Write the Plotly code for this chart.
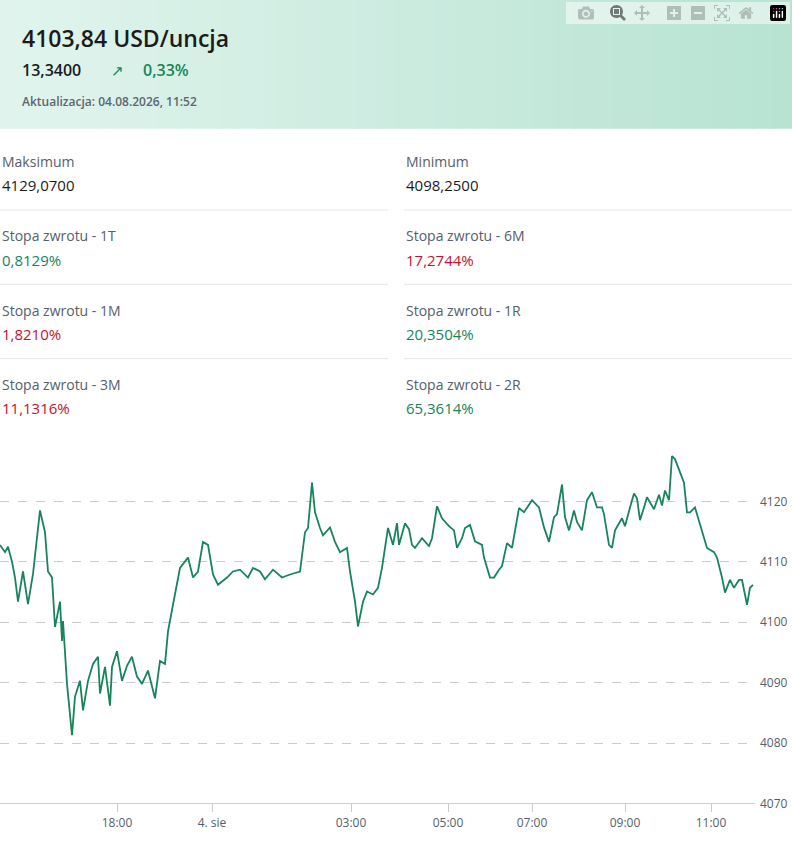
import plotly.graph_objects as go

# chart data (x = ordinal trading-time position, y = price)
xs = [0,5,8,12,15,18,23,28,33,40,45,48,52,55,60,62,63,67,72,75,80,83,88,93,98,100,105,110,112,117,122,127,132,137,142,148,155,160,165,168,173,180,188,193,198,203,208,213,218,227,233,240,248,253,260,265,273,282,290,300,305,308,312,315,320,323,330,335,340,347,350,355,358,363,367,373,378,382,388,393,397,
      399,405,409,412,415,422,429,432,437,442,449,454,457,462,465,470,475,482,484,490,494,499,502,507,512,519,524,532,539,544,549,554,557,562,565,569,574,577,582,587,592,597,602,604,609,612,615,622,625,630,634,637,640,644,647,654,659,662,665,669,672,675,680,684,687,690,695,702,707,714,717,722,725,730,734,739,742,747,750,753]
ys = [4112.8,4111.6,4112.5,4110.0,4107.4,4103.4,4108.4,4103.0,4108.0,4118.5,4114.9,4108.4,4107.4,4099.2,4103.4,4096.9,4100.2,4089.8,4081.3,4087.7,4090.3,4085.4,4090.3,4093.1,4094.3,4088.2,4092.6,4086.2,4092.6,4095.2,4090.3,4092.8,4094.3,4091.0,4089.8,4092.0,4087.4,4093.6,4093.1,4098.5,4102.9,4109.0,4110.7,4107.4,4108.4,4113.3,4112.8,4107.9,4106.2,4107.4,4108.4,4108.7,4107.4,4109.0,4108.4,4107.1,4108.7,4107.4,4107.9,4108.4,4114.9,4115.6,4123.1,4118.2,4115.6,4114.4,4115.7,4113.3,4111.6,4112.3,4108.4,4103.4,4099.3,4103.4,4105.1,4104.6,4105.7,4109.0,4115.6,4112.8,4116.4,
      4112.8,4116.4,4115.4,4112.8,4112.3,4113.9,4112.6,4113.9,4119.2,4117.2,4115.9,4115.2,4112.3,4113.9,4115.6,4116.1,4113.4,4112.8,4110.7,4107.4,4107.4,4108.7,4109.3,4113.1,4112.3,4118.9,4118.2,4120.2,4119.0,4115.7,4113.3,4117.4,4117.9,4122.8,4117.4,4115.2,4118.5,4116.6,4115.2,4120.2,4121.5,4119.0,4119.0,4117.9,4112.8,4112.3,4115.2,4117.2,4115.9,4119.0,4121.3,4120.5,4116.9,4119.0,4120.7,4118.7,4121.1,4119.3,4121.8,4120.2,4127.5,4127.0,4124.8,4123.1,4118.2,4118.2,4119.0,4114.9,4112.3,4111.6,4110.7,4107.4,4104.9,4107.0,4105.7,4107.0,4107.0,4102.9,4105.7,4106.2,4104.1]
tick_pos = [117,212,351,448,532,625,711]
tick_labels = ["18:00","4. sie","03:00","05:00","07:00","09:00","11:00"]
y_ticks = [4070,4080,4090,4100,4110,4120]

stats = [("Maksimum","4129,0700","#1b1b1b"),("Minimum","4098,2500","#1b1b1b"),
         ("Stopa zwrotu - 1T","0,8129%","#17845a"),("Stopa zwrotu - 6M","17,2744%","#c41230"),
         ("Stopa zwrotu - 1M","1,8210%","#c41230"),("Stopa zwrotu - 1R","20,3504%","#17845a"),
         ("Stopa zwrotu - 3M","11,1316%","#c41230"),("Stopa zwrotu - 2R","65,3614%","#17845a")]

W, H = 792, 865
def py(p): return (H - p) / H
def px(p): return p / W

fig = go.Figure(go.Scatter(x=xs, y=ys, mode="lines", line=dict(color="#17845a", width=1.8), hoverinfo="skip"))

shapes = []
n = 40
c0, c1 = (224, 244, 237), (184, 227, 210)
for i in range(n):
    t = i / (n - 1)
    col = "rgb(%d,%d,%d)" % tuple(round(a + (b - a) * t) for a, b in zip(c0, c1))
    shapes.append(dict(type="rect", xref="paper", yref="paper", x0=i / n, x1=(i + 1) / n + 0.002,
                       y0=py(130), y1=1, fillcolor=col, line_width=0, layer="below"))
for yy in [212, 287, 362]:
    for a, b in [(0, 388), (404, 792)]:
        shapes.append(dict(type="line", xref="paper", yref="paper", x0=px(a), x1=px(b),
                           y0=py(yy), y1=py(yy), line=dict(color="#e3e6e8", width=1)))

ann = [
    dict(text="4103,84 USD/uncja", x=px(20), y=py(38), font=dict(size=23, color="#1b1b1b", weight=600)),
    dict(text="13,3400", x=px(20), y=py(71), font=dict(size=16, color="#1b1b1b", weight=600)),
    dict(text="↗", x=px(109), y=py(71), font=dict(size=15, color="#17845a")),
    dict(text="0,33%", x=px(141), y=py(71), font=dict(size=16, color="#17845a", weight=600)),
    dict(text="Aktualizacja: 04.08.2026, 11:52", x=px(20), y=py(102), font=dict(size=12, color="#5d6670", weight=600)),
]
for i, (lab, val, col) in enumerate(stats):
    x0 = 0 if i % 2 == 0 else 404
    r = i // 2
    yl = 163 + r * 75
    ann.append(dict(text=lab, x=px(x0), y=py(yl), font=dict(size=14, color="#55606b", weight=500)))
    ann.append(dict(text=val, x=px(x0), y=py(yl + 24), font=dict(size=15, color=col, weight=500)))
for a in ann:
    a.update(xref="paper", yref="paper", xanchor="left", yanchor="middle", showarrow=False)

fig.update_layout(
    width=W, height=H, margin=dict(l=0, r=0, t=0, b=0),
    paper_bgcolor="white", plot_bgcolor="white", showlegend=False,
    font=dict(family="Open Sans", color="#55606b"),
    shapes=shapes, annotations=ann,
    xaxis=dict(domain=[0, px(755)], range=[0, 755], tickvals=tick_pos, ticktext=tick_labels,
               showgrid=False, zeroline=False, showline=True, linecolor="#c9cdd1",
               ticks="outside", ticklen=8, tickcolor="#c9cdd1",
               tickfont=dict(size=12, color="#55606b", weight=500)),
    yaxis=dict(domain=[py(811), py(439)], range=[4070, 4131], side="right", tickvals=y_ticks,
               showgrid=True, gridcolor="#c8ccd0", griddash="dash", zeroline=False,
               ticks="", tickfont=dict(size=12, color="#55606b", weight=500), ticklabelstandoff=4),
)
fig.write_html("out.html", post_script="document.body.style.margin='0';")
